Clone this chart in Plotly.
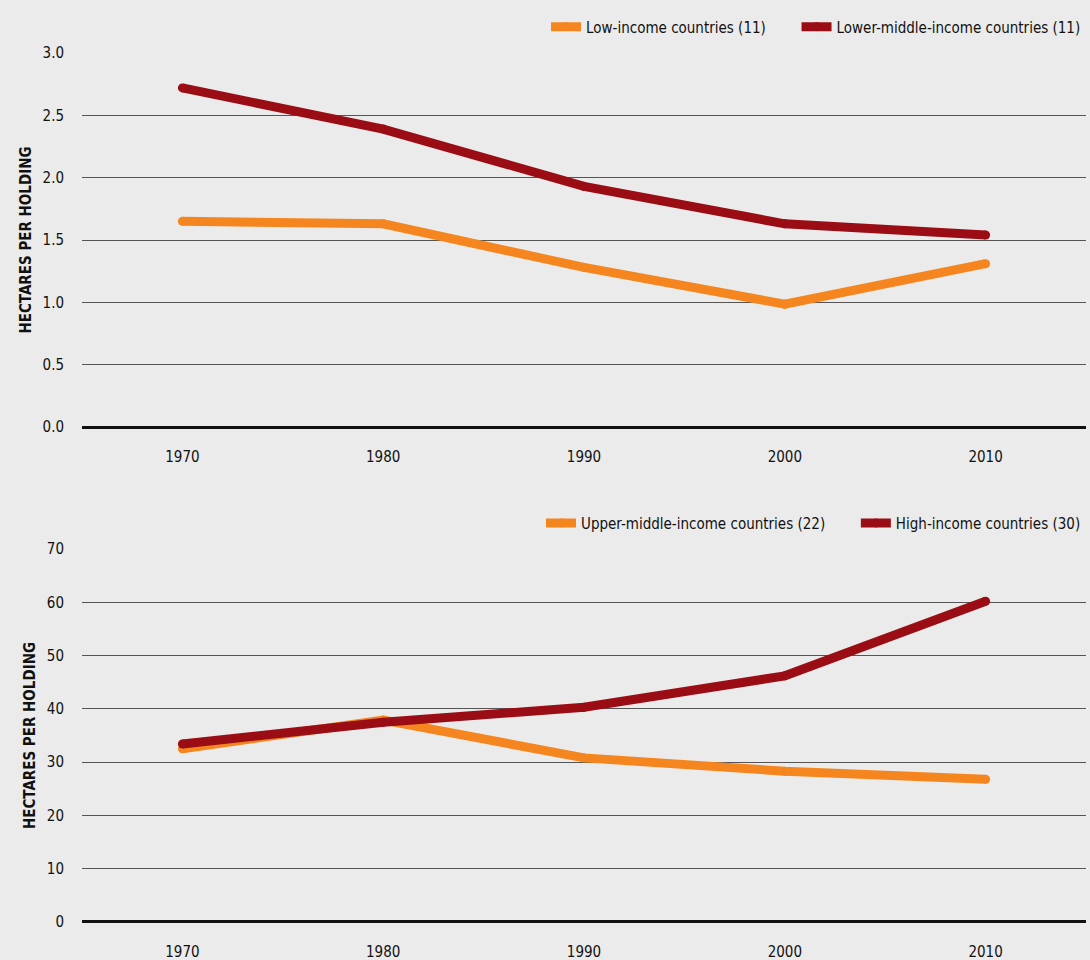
import plotly.graph_objects as go
from plotly.subplots import make_subplots

years = ["1970", "1980", "1990", "2000", "2010"]
low_income = [1.65, 1.63, 1.28, 0.985, 1.31]
lower_middle = [2.72, 2.39, 1.93, 1.63, 1.54]
upper_middle = [32.5, 37.9, 30.8, 28.3, 26.8]
high_income = [33.4, 37.5, 40.3, 46.2, 60.2]

ORANGE = "#F5861F"
RED = "#9B0D14"
BG = "#EBEBEB"
FONT = "DejaVu Sans Condensed"
GAP = "\u00a0" * 6

fig = make_subplots(rows=2, cols=1, vertical_spacing=0.14)

def add(y, name, color, row, legend):
    fig.add_trace(go.Scatter(
        x=years, y=y, name=name, mode="lines+markers",
        line=dict(color=color, width=9),
        marker=dict(color=color, size=9),
        legend=legend, hoverinfo="skip"), row=row, col=1)

add(low_income, "Low-income countries (11)" + GAP, ORANGE, 1, "legend")
add(lower_middle, "Lower-middle-income countries (11)", RED, 1, "legend")
add(upper_middle, "Upper-middle-income countries (22)" + GAP, ORANGE, 2, "legend2")
add(high_income, "High-income countries (30)", RED, 2, "legend2")

fig.update_xaxes(type="category", range=[-0.5, 4.5], showgrid=False,
                 showline=False, zeroline=False, automargin=False,
                 ticks="outside", ticklen=16, tickcolor="rgba(0,0,0,0)",
                 tickfont=dict(family=FONT, size=15, color="#111"))
fig.update_yaxes(showgrid=True, gridcolor="#555", gridwidth=1,
                 zeroline=True, zerolinecolor="#111", zerolinewidth=3,
                 ticks="outside", ticklen=14, tickcolor="rgba(0,0,0,0)",
                 tickfont=dict(family=FONT, size=15, color="#111"),
                 title=dict(text="<b>HECTARES PER HOLDING</b>", standoff=7,
                            font=dict(family=FONT, size=15, color="#111")),
                 showline=False, automargin=False)
fig.update_yaxes(range=[0, 3.0], dtick=0.5, tickformat=".1f", row=1, col=1)
fig.update_yaxes(range=[0, 70], dtick=10, row=2, col=1)

fig.update_layout(
    width=1090, height=960,
    paper_bgcolor=BG, plot_bgcolor=BG,
    margin=dict(l=82, r=4, t=53, b=38),
    font=dict(family=FONT, size=15, color="#111"),
    yaxis=dict(domain=[0.5696, 1.0]),
    yaxis2=dict(domain=[0.0, 0.4292]),
    legend=dict(orientation="h", x=1.0, xanchor="right", y=1.030, yanchor="middle",
                bgcolor="rgba(0,0,0,0)", font=dict(family=FONT, size=15, color="#111"),
                itemwidth=30),
    legend2=dict(orientation="h", x=1.0, xanchor="right", y=0.459, yanchor="middle",
                 bgcolor="rgba(0,0,0,0)", font=dict(family=FONT, size=15, color="#111"),
                 itemwidth=30),
    showlegend=True,
)

fig.write_html("out.html", config={"displayModeBar": False},
               post_script="document.body.style.margin='0';document.body.style.padding='0';")
